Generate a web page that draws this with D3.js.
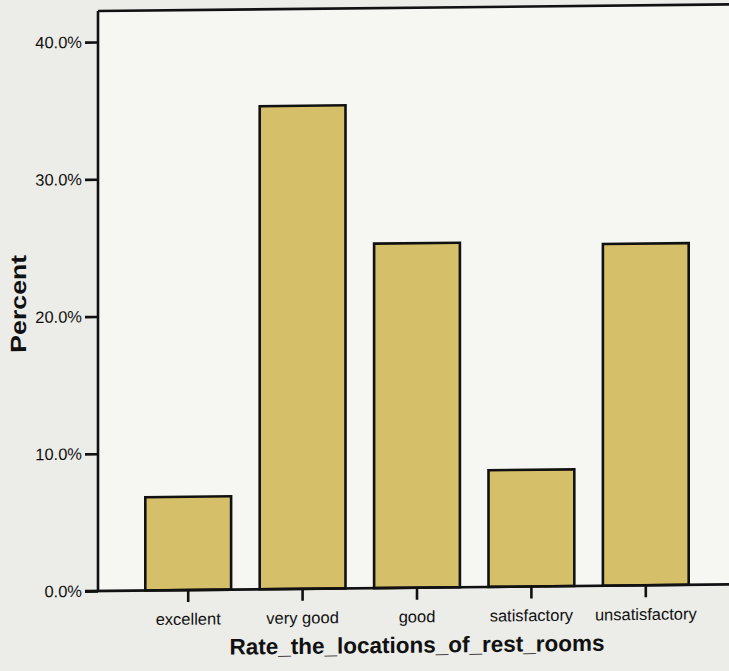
<!DOCTYPE html>
<html>
<head>
<meta charset="utf-8">
<script src="https://cdn.jsdelivr.net/npm/d3@7"></script>
<style>
  body { margin: 0; background: #ecece8; }
  svg { display: block; }
</style>
</head>
<body>
<div id="chart"></div>
<script>
const categories = ["excellent", "very good", "good", "satisfactory", "unsatisfactory"];
const percents = [6.8, 35.2, 25.1, 8.5, 24.9];
const yTicks = [0, 10, 20, 30, 40];
const xTitle = "Rate_the_locations_of_rest_rooms";
const yTitle = "Percent";

const W = 729, H = 671;
const plotLeft = 98, plotTop = 11, plotBottom = 591;

const svg = d3.select("#chart")
  .append("svg")
  .attr("width", W)
  .attr("height", H);

svg.append("rect")
  .attr("width", W).attr("height", H)
  .attr("fill", "#ecece8");

// the scan is a little skewed, right side sits higher
const g = svg.append("g")
  .attr("transform", `translate(${plotLeft},0) skewY(-0.6) translate(${-plotLeft},0)`);

const x = d3.scaleBand()
  .domain(categories)
  .range([131, 703])
  .paddingInner(0.25)
  .paddingOuter(0.125);

const y = d3.scaleLinear()
  .domain([0, 42.26])
  .range([plotBottom, plotTop]);

// plot area
g.append("rect")
  .attr("x", plotLeft).attr("y", plotTop)
  .attr("width", W + 20 - plotLeft).attr("height", plotBottom - plotTop)
  .attr("fill", "#f6f6f3");

// bars
g.append("g")
  .selectAll("rect")
  .data(percents)
  .join("rect")
  .attr("x", (d, i) => x(categories[i]))
  .attr("y", d => y(d))
  .attr("width", x.bandwidth())
  .attr("height", d => y(0) - y(d))
  .attr("fill", "#d6bf69")
  .attr("stroke", "#111")
  .attr("stroke-width", 2.6);

// frame
const frameStroke = "#111";
g.append("line")
  .attr("x1", plotLeft).attr("x2", W + 20)
  .attr("y1", plotTop).attr("y2", plotTop)
  .attr("stroke", frameStroke).attr("stroke-width", 2.6);
g.append("line")
  .attr("x1", plotLeft).attr("x2", plotLeft)
  .attr("y1", plotTop).attr("y2", plotBottom)
  .attr("stroke", frameStroke).attr("stroke-width", 2.6);
g.append("line")
  .attr("x1", plotLeft - 13).attr("x2", W + 20)
  .attr("y1", plotBottom).attr("y2", plotBottom)
  .attr("stroke", frameStroke).attr("stroke-width", 2.6);

// y axis
const yAxis = g.append("g")
  .attr("transform", `translate(${plotLeft},0)`)
  .call(d3.axisLeft(y)
    .tickValues(yTicks)
    .tickSize(13)
    .tickPadding(3)
    .tickFormat(d => d3.format(".1f")(d) + "%"));
yAxis.select(".domain").remove();
yAxis.selectAll("line").attr("stroke", "#111").attr("stroke-width", 2.6);
yAxis.selectAll("text")
  .attr("fill", "#111")
  .style("font-family", "Liberation Sans, Arial, sans-serif")
  .style("font-size", "16.5px");

// x axis
const xAxis = g.append("g")
  .attr("transform", `translate(0,${plotBottom})`)
  .call(d3.axisBottom(x).tickSize(12).tickPadding(11));
xAxis.select(".domain").remove();
xAxis.selectAll("line").attr("stroke", "#111").attr("stroke-width", 2.6);
xAxis.selectAll("text")
  .attr("fill", "#111")
  .style("font-family", "Liberation Sans, Arial, sans-serif")
  .style("font-size", "16.5px");

// titles
g.append("text")
  .attr("x", 417)
  .attr("y", 656)
  .attr("text-anchor", "middle")
  .attr("fill", "#111")
  .style("font-family", "Liberation Sans, Arial, sans-serif")
  .style("font-weight", "bold")
  .style("font-size", "22.5px")
  .text(xTitle);

g.append("text")
  .attr("transform", "translate(26,303) rotate(-90)")
  .attr("text-anchor", "middle")
  .attr("fill", "#111")
  .attr("textLength", 98)
  .attr("lengthAdjust", "spacingAndGlyphs")
  .style("font-family", "Liberation Sans, Arial, sans-serif")
  .style("font-weight", "bold")
  .style("font-size", "22px")
  .text(yTitle);
</script>
</body>
</html>
